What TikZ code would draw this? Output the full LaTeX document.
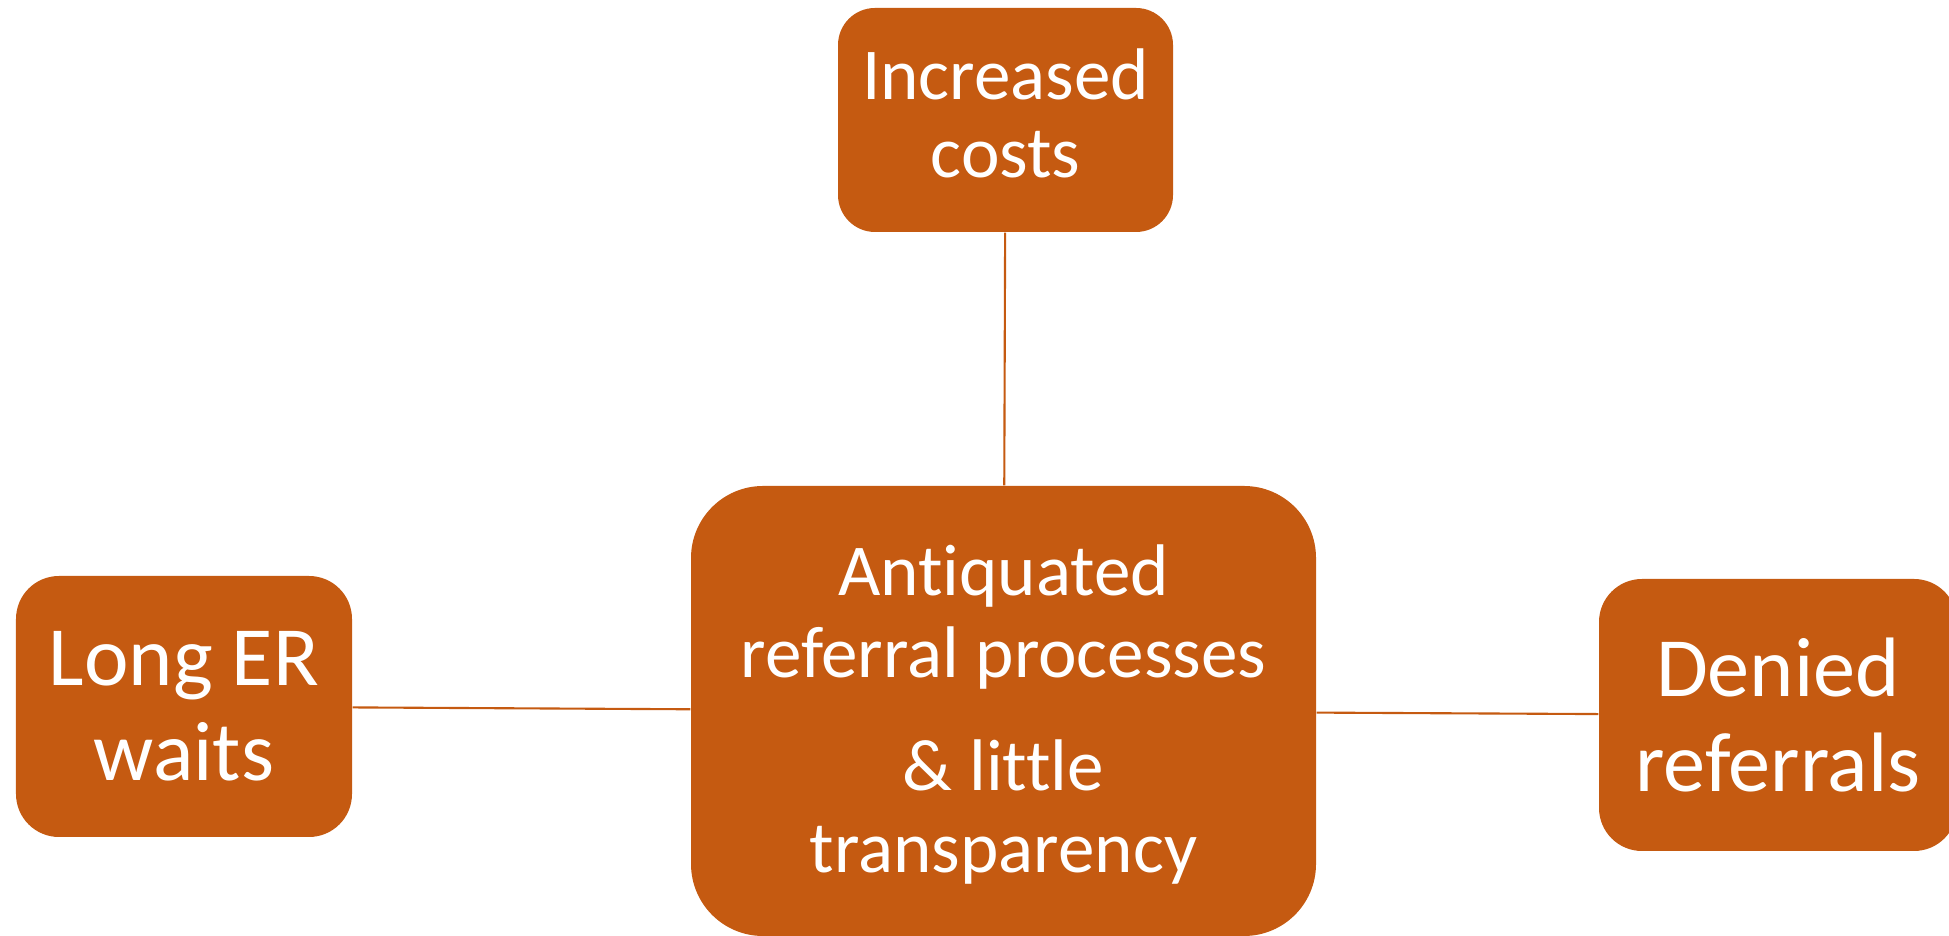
\documentclass[tikz,border=0pt]{standalone}
\usepackage{fontspec}
\setmainfont{Carlito}[Ligatures=NoCommon]
\usepackage{tikz}
\usetikzlibrary{positioning}
\definecolor{rust}{HTML}{C55A11}
\tikzstyle{line} = [draw, rust, line width=0.6pt]
\tikzstyle{block} = [rectangle, fill=rust, text=white, align=center, inner sep=0pt]
\tikzstyle{sideblock} = [block, minimum width=3.36cm, minimum height=2.61cm, rounded corners=0.43cm, font=\fontsize{24}{27}\selectfont]

\begin{document}
\begin{tikzpicture}
                \useasboundingbox (0,0) rectangle (19.49,9.36);
                % Create Blocks

                \node [block, minimum width=6.25cm, minimum height=4.5cm, rounded corners=0.72cm, text height=3.35cm, font=\fontsize{20.8}{23.3}\selectfont] (cause) at (10.035,2.25) {Antiquated\\referral processes\\[0.31cm]\& little\\transparency};
                \node [block, above of=cause, node distance=5.91cm, xshift=0.02cm, minimum width=3.35cm, minimum height=2.24cm, rounded corners=0.37cm, text height=1.16cm, font=\fontsize{20.8}{22.2}\selectfont] (costs) {Increased\\costs};
                \node [sideblock, left of=cause, node distance=8.195cm, yshift=0.045cm] (waits) {Long ER\\waits};
                \node [sideblock, right of=cause, node distance=7.745cm, yshift=-0.04cm, minimum width=3.58cm, minimum height=2.72cm] (denied) {Denied\\referrals};

                % Add Lines
                \path [line] (costs) -- (cause);
                \path [line] (waits) -- (cause);
                \path [line] (cause) -- (denied);
            \end{tikzpicture}
\end{document}
